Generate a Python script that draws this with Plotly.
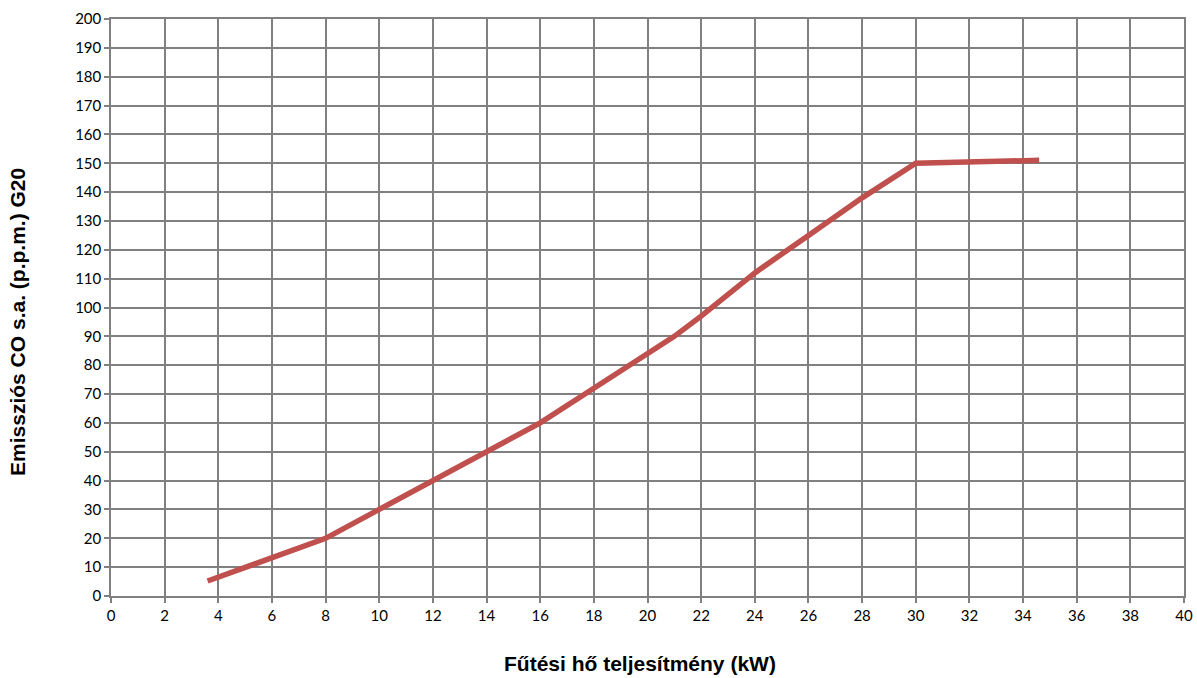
import plotly.graph_objects as go

power_kw = [3.6, 8, 10, 12, 14, 16, 18, 20, 21, 22, 24, 26, 28, 30, 34.6]
co_ppm = [5.2, 20, 30, 40, 50, 60, 72, 84, 90, 97, 112, 125, 138, 150, 151]

x_ticks = list(range(0, 41, 2))
y_ticks = list(range(0, 201, 10))

x_title = "Fűtési hő teljesítmény (kW)"
y_title = "Emissziós CO s.a. (p.p.m.) G20"

fig = go.Figure()
fig.add_trace(go.Scatter(
    x=power_kw, y=co_ppm, mode="lines",
    line=dict(color="#C0504D", width=5.5),
    showlegend=False,
))

grid = "#808080"
title_font = dict(family="Liberation Sans, Arial, sans-serif", size=21, color="#000000")
fig.update_layout(
    width=1197, height=678,
    margin=dict(l=111, r=13, t=19, b=82),
    plot_bgcolor="white", paper_bgcolor="white",
    font=dict(family="Lato, Open Sans, sans-serif", size=15, color="#000000"),
    annotations=[
        dict(text="<b>" + x_title + "</b>", xref="paper", yref="paper",
             x=0.4926, y=0, yshift=-67, xanchor="center", yanchor="middle",
             showarrow=False, font=title_font),
        dict(text="<b>" + y_title + "</b>", xref="paper", yref="paper",
             x=0, xshift=-93, y=0.475, xanchor="center", yanchor="middle",
             textangle=-90, showarrow=False, font=title_font),
    ],
)
fig.update_xaxes(
    range=[0, 40], tickvals=x_ticks, ticktext=[str(v) for v in x_ticks],
    showgrid=True, gridcolor=grid, gridwidth=1.5,
    showline=True, linecolor=grid, linewidth=1.5, mirror=True,
    ticks="outside", ticklen=5, tickcolor=grid, tickwidth=1.5,
    zeroline=False, automargin=False,
)
fig.update_yaxes(
    range=[0, 200], tickvals=y_ticks, ticktext=[str(v) for v in y_ticks],
    showgrid=True, gridcolor=grid, gridwidth=1.5,
    showline=True, linecolor=grid, linewidth=1.5, mirror=True,
    ticks="outside", ticklen=5, tickcolor=grid, tickwidth=1.5,
    zeroline=False, automargin=False,
)

fig.write_html(
    "out.html",
    config={"responsive": False, "displayModeBar": False},
    post_script="document.body.style.margin='0';document.body.style.overflow='hidden';",
)
